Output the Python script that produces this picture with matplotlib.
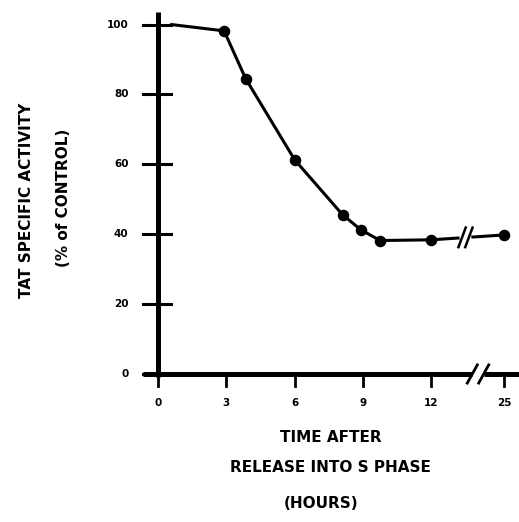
import numpy as np
import matplotlib.pyplot as plt

# data
hours = [0.6, 2.9, 3.85, 6.0, 8.1, 8.9, 9.75, 12.0, 25.0]
activity = [100.0, 98.2, 84.5, 61.3, 45.6, 41.3, 38.2, 38.4, 39.8]
has_marker = [False, True, True, True, True, True, True, True, True]
xticks = [0, 3, 6, 9, 12, 25]
yticks = [0, 20, 40, 60, 80, 100]


def xpos(h):
    # broken axis: 25 h is drawn right after 12 h
    h = np.asarray(h, dtype=float)
    return np.where(h > 13, h - 9.8, h)


fig = plt.figure(figsize=(5.19, 5.22), dpi=100)
ax = fig.add_axes([143 / 519, 142 / 522, 376 / 519, 368 / 522])
ax.set_xlim(-0.66, 15.85)
ax.set_ylim(-1.72, 103.6)
ax.axis('off')

lw_axis = 3.6
# axes lines
ax.plot([0, 0], [-0.8, 103.6], color='black', lw=lw_axis, solid_capstyle='butt', clip_on=False)
ax.plot([-0.66, 13.8], [0, 0], color='black', lw=lw_axis, solid_capstyle='butt', clip_on=False)
ax.plot([14.3, 15.85], [0, 0], color='black', lw=lw_axis, solid_capstyle='butt', clip_on=False)
# break marks on x axis
for dx in [13.8, 14.3]:
    ax.plot([dx - 0.22, dx + 0.22], [-2.6, 2.6], color='black', lw=2.0, clip_on=False)

# y ticks crossing the axis
for y in yticks:
    ax.plot([-0.66, 0.55], [y, y], color='black', lw=2.2, clip_on=False)
    ax.text(-1.3, y, str(y), ha='right', va='center', fontsize=7.5, fontweight='heavy')

# x ticks below axis
for h in xticks:
    x = float(xpos(h))
    ax.plot([x, x], [0, -3.3], color='black', lw=2.0, clip_on=False)
    ax.text(x, -8.3, str(h), ha='center', va='center', fontsize=7.5, fontweight='heavy')

# data line
xs = xpos(hours)
ax.plot(xs, activity, color='black', lw=2.2, zorder=3)
mx = [x for x, m in zip(xs, has_marker) if m]
my = [y for y, m in zip(activity, has_marker) if m]
ax.plot(mx, my, 'o', color='black', ms=7.3, zorder=4)

# break on the data line
gx0, gx1 = 13.35, 13.65
ax.plot([gx0 + 0.03, gx1 - 0.03], [38.9, 39.1], color='white', lw=4.5, zorder=3.5)
for dx in [gx0, gx1]:
    ax.plot([dx - 0.16, dx + 0.16], [36.3, 41.9], color='black', lw=1.8, zorder=4)

# labels
fs = 11
fig.text(331 / 519, 1 - 437 / 522, 'TIME AFTER', ha='center', va='center',
         fontsize=fs, fontweight='bold')
fig.text(330 / 519, 1 - 468 / 522, 'RELEASE INTO S PHASE', ha='center', va='center',
         fontsize=fs, fontweight='bold')
fig.text(321 / 519, 1 - 503 / 522, '(HOURS)', ha='center', va='center',
         fontsize=fs, fontweight='bold')
fig.text(27 / 519, 1 - 200 / 522, 'TAT SPECIFIC ACTIVITY', ha='center', va='center',
         rotation=90, fontsize=fs, fontweight='bold')
fig.text(63 / 519, 1 - 198 / 522, '(% of CONTROL)', ha='center', va='center',
         rotation=90, fontsize=fs, fontweight='bold')

fig.savefig('out.png', dpi=100)
